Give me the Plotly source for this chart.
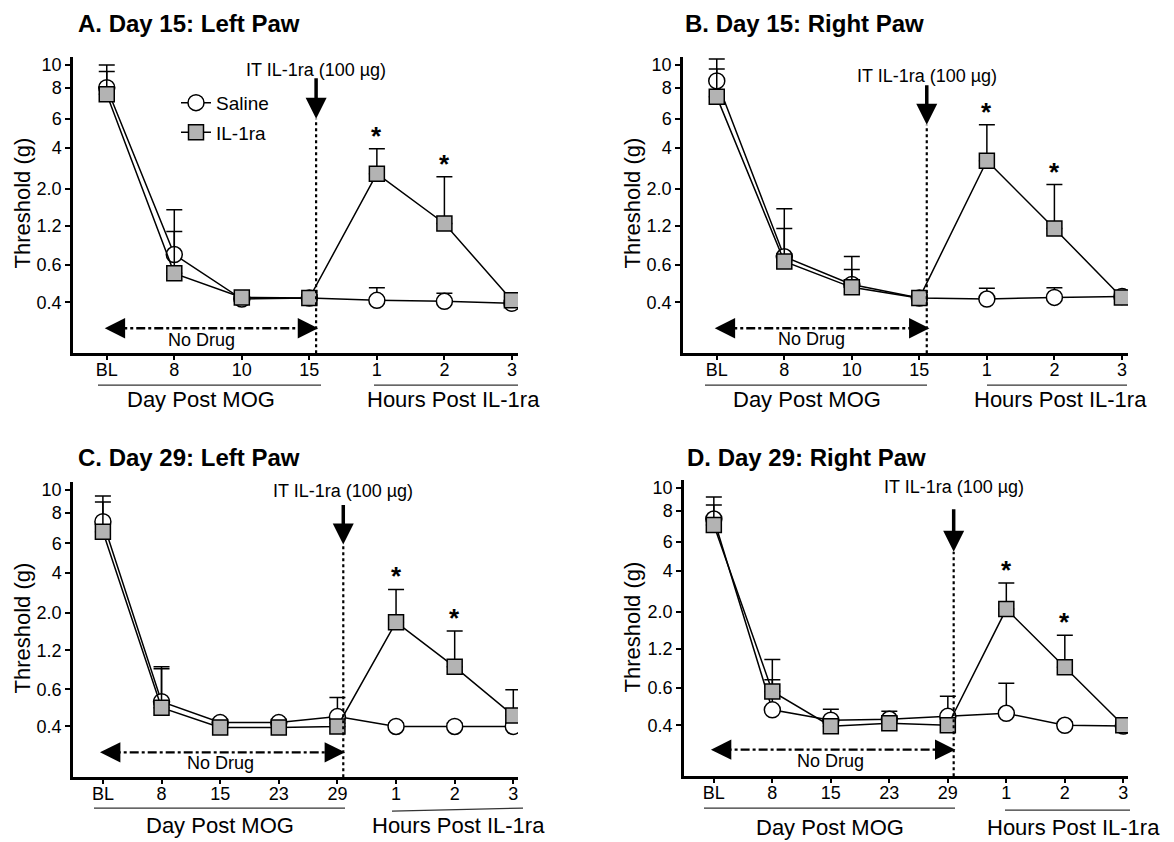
import plotly.graph_objects as go

# ---- axis definitions (von Frey filament log units, labelled in grams) ----
y_tickvals = [3.61, 3.84, 4.08, 4.31, 4.56, 4.74, 4.93, 5.07]
y_ticktext = ['0.4', '0.6', '1.2', '2.0', '4', '6', '8', '10']

cats_d15 = ['BL', '8', '10', '15', '1', '2', '3']
cats_d29 = ['BL', '8', '15', '23', '29', '1', '2', '3']

# ---- data (threshold in filament log units) ----
A_saline = [4.93, 3.904, 3.63, 3.636, 3.622, 3.616, 3.604]
A_saline_err = [0.14, 0.141, 0.02, 0.02, 0.078, 0.049, 0.02]
A_il1ra = [4.89, 3.788, 3.64, 3.636, 4.401, 4.095, 3.622]
A_il1ra_err = [0.14, 0.392, 0.02, 0.02, 0.154, 0.288, 0.02]

B_saline = [4.972, 3.89, 3.72, 3.636, 3.63, 3.64, 3.645]
B_saline_err = [0.135, 0.174, 0.092, 0.02, 0.066, 0.06, 0.02]
B_il1ra = [4.874, 3.861, 3.702, 3.636, 4.481, 4.064, 3.64]
B_il1ra_err = [0.171, 0.325, 0.19, 0.02, 0.221, 0.27, 0.02]

C_saline = [4.874, 3.763, 3.634, 3.634, 3.671, 3.61, 3.61, 3.61]
C_saline_err = [0.159, 0.215, 0.02, 0.02, 0.117, 0.02, 0.02, 0.02]
C_il1ra = [4.812, 3.726, 3.604, 3.604, 3.61, 4.254, 3.978, 3.677]
C_il1ra_err = [0.184, 0.24, 0.02, 0.02, 0.02, 0.202, 0.221, 0.16]

D_saline = [4.879, 3.705, 3.641, 3.647, 3.665, 3.684, 3.61, 3.605]
D_saline_err = [0.136, 0.185, 0.067, 0.049, 0.123, 0.185, 0.02, 0.02]
D_il1ra = [4.842, 3.818, 3.604, 3.622, 3.61, 4.325, 3.967, 3.61]
D_il1ra_err = [0.123, 0.197, 0.02, 0.02, 0.02, 0.16, 0.197, 0.02]

sig_d15 = [False, False, False, False, True, True, False]
sig_d29 = [False, False, False, False, False, True, True, False]

titles = ['A. Day 15: Left Paw', 'B. Day 15: Right Paw',
          'C. Day 29: Left Paw', 'D. Day 29: Right Paw']

W, H = 1174, 842


def px(x, y):
    return x / W, 1 - y / H


# ---- layout per panel (pixel geometry) ----
panels = [
    dict(key='A', cats=cats_d15, sal=A_saline, sal_e=A_saline_err, il=A_il1ra, il_e=A_il1ra_err, sig=sig_d15,
         dom_x=(73, 518), dom_y=(55, 352), xr=(-0.5, 6.09), drug_x=3.1, tip=4.739, arrow_len=42,
         it_y=56, nd=(-0.03, 3.13, 3.45), nd_text=(1.41, 3.377),
         title=(76, 22), ytitle=(23, 202),
         day_line=(98, 321, 384, 384), hr_line=(374, 518, 384, 384),
         day_txt=(201, 398), hr_txt=(453, 398)),
    dict(key='B', cats=cats_d15, sal=B_saline, sal_e=B_saline_err, il=B_il1ra, il_e=B_il1ra_err, sig=sig_d15,
         dom_x=(683, 1128), dom_y=(55, 352), xr=(-0.5, 6.09), drug_x=3.11, tip=4.702, arrow_len=41,
         it_y=62, nd=(-0.03, 3.15, 3.45), nd_text=(1.41, 3.383),
         title=(683, 22), ytitle=(633, 202),
         day_line=(705, 927, 384, 384), hr_line=(987, 1127, 384, 384),
         day_txt=(807, 398), hr_txt=(1060, 398)),
    dict(key='C', cats=cats_d29, sal=C_saline, sal_e=C_saline_err, il=C_il1ra, il_e=C_il1ra_err, sig=sig_d29,
         dom_x=(73, 518), dom_y=(481, 777), xr=(-0.51, 7.08), drug_x=4.1, tip=4.733, arrow_len=41,
         it_y=490, nd=(-0.05, 4.13, 3.45), nd_text=(2.0, 3.383),
         title=(76, 457), ytitle=(23, 628),
         day_line=(94, 345, 808, 808), hr_line=(392, 523, 811, 808),
         day_txt=(220, 825), hr_txt=(458, 825)),
    dict(key='D', cats=cats_d29, sal=D_saline, sal_e=D_saline_err, il=D_il1ra, il_e=D_il1ra_err, sig=sig_d29,
         dom_x=(684, 1128), dom_y=(479, 776), xr=(-0.51, 7.08), drug_x=4.1, tip=4.677, arrow_len=44,
         it_y=486, nd=(-0.05, 4.13, 3.46), nd_text=(2.0, 3.39),
         title=(685, 457), ytitle=(633, 627),
         day_line=(704, 955, 808, 808), hr_line=(1005, 1130, 810, 810),
         day_txt=(830, 827), hr_txt=(1073, 827)),
]

FONT = 'Liberation Sans, Arial, sans-serif'
fig = go.Figure()
annotations = []
shapes = []
layout_axes = {}

for i, p in enumerate(panels):
    n = i + 1
    xa = 'x' if n == 1 else f'x{n}'
    ya = 'y' if n == 1 else f'y{n}'
    xkey = 'xaxis' if n == 1 else f'xaxis{n}'
    ykey = 'yaxis' if n == 1 else f'yaxis{n}'
    xs = list(range(len(p['cats'])))

    layout_axes[xkey] = dict(
        domain=[p['dom_x'][0] / W, p['dom_x'][1] / W], anchor=ya, range=list(p['xr']),
        tickmode='array', tickvals=xs, ticktext=p['cats'],
        showline=True, linewidth=2.5, linecolor='black', ticks='outside', ticklen=4,
        tickwidth=1.5, tickcolor='black', showgrid=False, zeroline=False, ticklabelstandoff=-6,
        tickfont=dict(family=FONT, size=18, color='black'))
    layout_axes[ykey] = dict(
        domain=[1 - p['dom_y'][1] / H, 1 - p['dom_y'][0] / H], anchor=xa, range=[3.297, 5.12],
        tickmode='array', tickvals=y_tickvals, ticktext=y_ticktext,
        showline=True, linewidth=2.5, linecolor='black', ticks='outside', ticklen=5,
        tickwidth=1.5, tickcolor='black', showgrid=False, zeroline=False,
        tickfont=dict(family=FONT, size=18, color='black'))

    # No Drug dash-dot double arrow
    x0, x1, yy = p['nd']
    fig.add_trace(go.Scatter(x=[x0 + 0.2, x1 - 0.2], y=[yy, yy], mode='lines', xaxis=xa, yaxis=ya,
                             line=dict(color='black', width=2.4, dash='dashdot'),
                             showlegend=False, hoverinfo='skip'))
    for tipx, sgn in ((x0, 1), (x1, -1)):
        annotations.append(dict(x=tipx, y=yy, xref=xa, yref=ya, text='', showarrow=True,
                                ax=sgn * 16, ay=0, arrowhead=2, arrowsize=1.7, arrowwidth=2.4,
                                arrowcolor='black'))
    annotations.append(dict(x=p['nd_text'][0], y=p['nd_text'][1], xref=xa, yref=ya, text='No Drug',
                            showarrow=False, font=dict(family=FONT, size=18, color='black')))

    # dotted injection line + arrow
    shapes.append(dict(type='line', xref=xa, yref=ya, x0=p['drug_x'], x1=p['drug_x'],
                       y0=3.297, y1=p['tip'], line=dict(color='black', width=2.2, dash='dot')))
    annotations.append(dict(x=p['drug_x'], y=p['tip'], xref=xa, yref=ya, text='', showarrow=True,
                            ax=0, ay=-p['arrow_len'], arrowhead=2, arrowsize=1.2, arrowwidth=3.5,
                            arrowcolor='black'))
    annotations.append(dict(x=p['drug_x'], y=1 - p['it_y'] / H, xref=xa, yref='paper',
                            text='IT IL-1ra (100 µg)', showarrow=False,
                            font=dict(family=FONT, size=18, color='black')))

    # data traces
    fig.add_trace(go.Scatter(
        x=xs, y=p['sal'], mode='lines+markers', name='Saline', xaxis=xa, yaxis=ya,
        showlegend=(n == 1), legendgroup='s',
        line=dict(color='black', width=1.5),
        marker=dict(symbol='circle', size=16, color='white', line=dict(color='black', width=1.5)),
        error_y=dict(type='data', symmetric=False, array=p['sal_e'], arrayminus=[0] * len(xs),
                     color='black', thickness=1.5, width=8)))
    fig.add_trace(go.Scatter(
        x=xs, y=p['il'], mode='lines+markers', name='IL-1ra', xaxis=xa, yaxis=ya,
        showlegend=(n == 1), legendgroup='i',
        line=dict(color='black', width=1.5),
        marker=dict(symbol='square', size=15, color='#b3b3b3', line=dict(color='black', width=1.5)),
        error_y=dict(type='data', symmetric=False, array=p['il_e'], arrayminus=[0] * len(xs),
                     color='black', thickness=1.5, width=8)))

    # significance asterisks
    for j, s in enumerate(p['sig']):
        if s:
            annotations.append(dict(x=j, y=p['il'][j] + p['il_e'][j], xref=xa, yref=ya, text='<b>*</b>',
                                    showarrow=False, yanchor='bottom', yshift=-4,
                                    font=dict(family=FONT, size=26, color='black')))

    # titles and axis labels
    tx, ty = px(*p['title'])
    annotations.append(dict(x=tx, y=ty, xref='paper', yref='paper', text=f'<b>{titles[i]}</b>',
                            showarrow=False, xanchor='left', yanchor='middle',
                            font=dict(family=FONT, size=24, color='black')))
    yx, yy2 = px(*p['ytitle'])
    annotations.append(dict(x=yx, y=yy2, xref='paper', yref='paper', text='Threshold (g)',
                            showarrow=False, textangle=-90, xanchor='center', yanchor='middle',
                            font=dict(family=FONT, size=22, color='black')))
    for (lx0, lx1, ly0, ly1) in (p['day_line'], p['hr_line']):
        a0 = px(lx0, ly0)
        a1 = px(lx1, ly1)
        shapes.append(dict(type='line', xref='paper', yref='paper', x0=a0[0], y0=a0[1], x1=a1[0], y1=a1[1],
                           line=dict(color='#333333', width=1.2)))
    for txt, pos in (('Day Post MOG', p['day_txt']), ('Hours Post IL-1ra', p['hr_txt'])):
        qx, qy = px(*pos)
        annotations.append(dict(x=qx, y=qy, xref='paper', yref='paper', text=txt, showarrow=False,
                                xanchor='center', yanchor='middle',
                                font=dict(family=FONT, size=22, color='black')))

fig.update_layout(
    width=W, height=H, margin=dict(l=0, r=0, t=0, b=0),
    paper_bgcolor='white', plot_bgcolor='white',
    font=dict(family=FONT, color='black'),
    showlegend=True,
    legend=dict(x=176 / W, y=1 - 82 / H, xanchor='left', yanchor='top', bgcolor='rgba(0,0,0,0)',
                font=dict(family=FONT, size=19, color='black'), tracegroupgap=2, itemwidth=30),
    annotations=annotations, shapes=shapes,
    **layout_axes)

fig.write_html('out.html', config={'displayModeBar': False},
               post_script="document.body.style.margin='0px';document.body.style.overflow='hidden';")
